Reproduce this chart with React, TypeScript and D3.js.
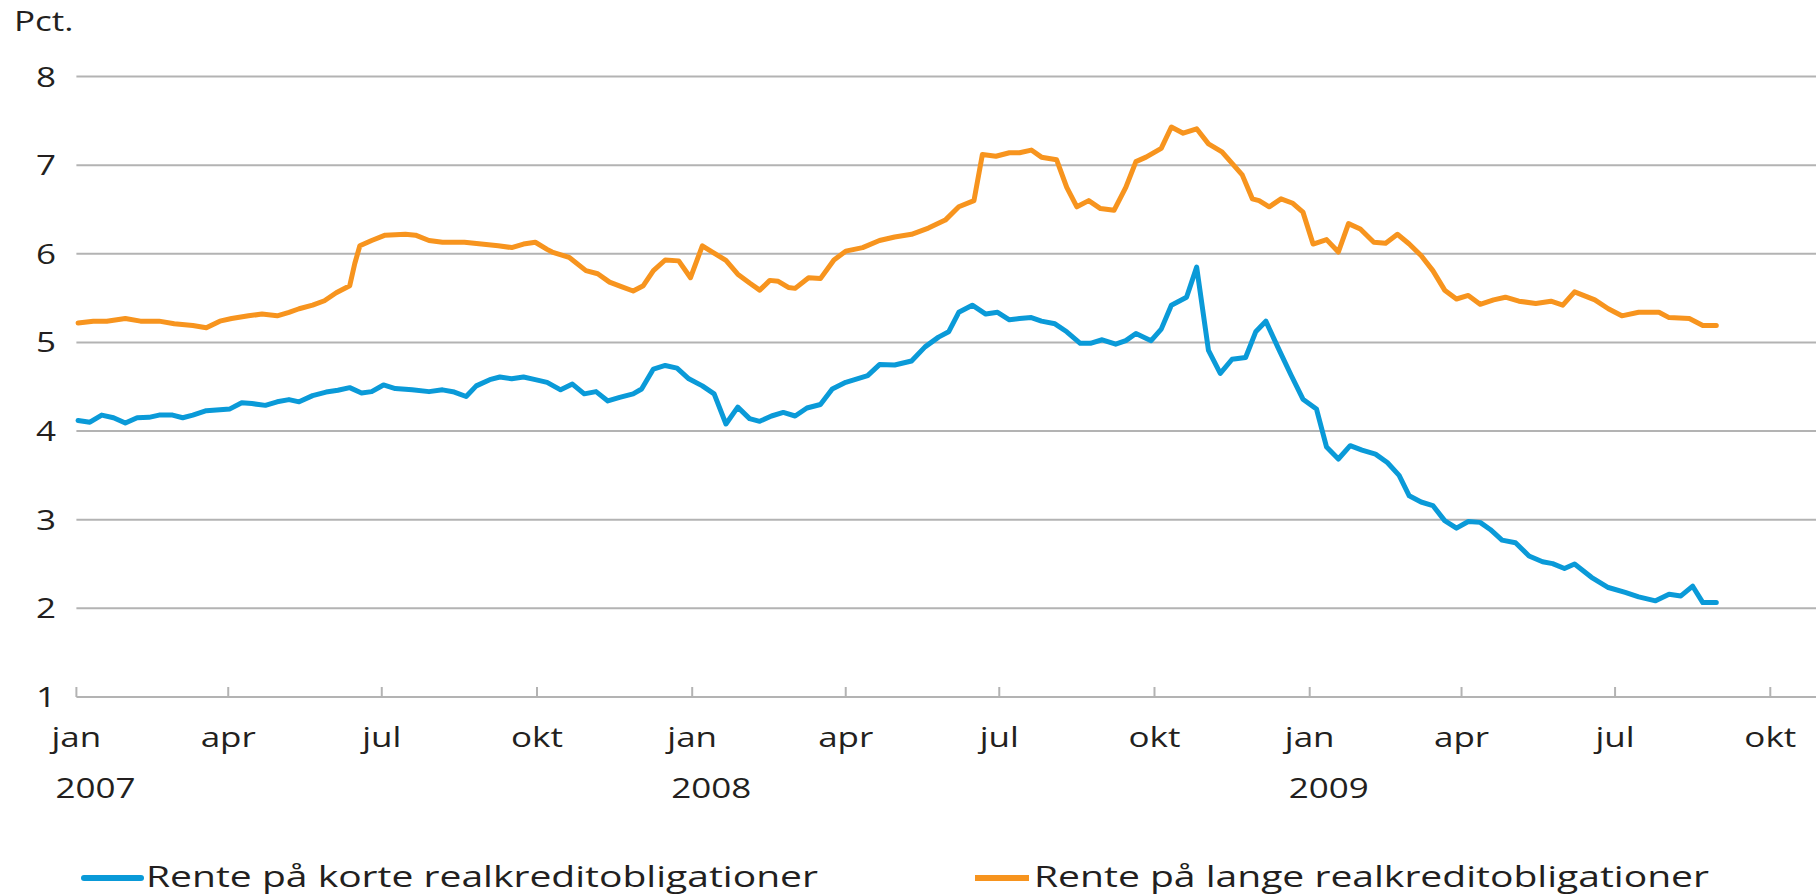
import React from "react";
import * as d3 from "d3";

// Rente på lange realkreditobligationer (orange)
const longDates = [
  "2007-01-02","2007-01-11","2007-01-19","2007-01-30","2007-02-08","2007-02-19","2007-02-28","2007-03-11","2007-03-19","2007-03-27",
  "2007-04-03","2007-04-13","2007-04-21","2007-04-30","2007-05-07","2007-05-13","2007-05-21","2007-05-28","2007-06-04","2007-06-12",
  "2007-06-15","2007-06-18","2007-06-25","2007-07-03","2007-07-15","2007-07-21","2007-07-29","2007-08-06","2007-08-19","2007-08-29",
  "2007-09-08","2007-09-16","2007-09-23","2007-09-30","2007-10-07","2007-10-10","2007-10-20","2007-10-30","2007-11-06","2007-11-13",
  "2007-11-20","2007-11-27","2007-12-03","2007-12-09","2007-12-16","2007-12-24","2007-12-31","2008-01-07","2008-01-13","2008-01-21",
  "2008-01-28","2008-02-04","2008-02-10","2008-02-16","2008-02-21","2008-02-27","2008-03-02","2008-03-10","2008-03-17","2008-03-25",
  "2008-04-01","2008-04-11","2008-04-21","2008-04-30","2008-05-10","2008-05-20","2008-05-30","2008-06-07","2008-06-16","2008-06-21",
  "2008-06-29","2008-07-07","2008-07-13","2008-07-20","2008-07-26","2008-08-04","2008-08-10","2008-08-16","2008-08-23","2008-08-30",
  "2008-09-07","2008-09-14","2008-09-20","2008-09-26","2008-10-05","2008-10-11","2008-10-18","2008-10-26","2008-11-02","2008-11-10",
  "2008-11-16","2008-11-22","2008-11-28","2008-12-02","2008-12-08","2008-12-15","2008-12-22","2008-12-28","2009-01-03","2009-01-11",
  "2009-01-18","2009-01-24","2009-01-31","2009-02-08","2009-02-15","2009-02-22","2009-03-01","2009-03-08","2009-03-15","2009-03-22",
  "2009-03-29","2009-04-05","2009-04-12","2009-04-20","2009-04-27","2009-05-05","2009-05-15","2009-05-24","2009-05-31","2009-06-07",
  "2009-06-19","2009-06-27","2009-07-05","2009-07-15","2009-07-27","2009-08-02","2009-08-14","2009-08-22","2009-08-30"
];
const longValues = [
  5.22,5.24,5.24,5.27,5.24,5.24,5.21,5.19,5.165,5.24,
  5.27,5.30,5.32,5.30,5.34,5.38,5.42,5.47,5.56,5.64,
  5.89,6.09,6.15,6.21,6.22,6.21,6.15,6.13,6.13,6.11,
  6.09,6.07,6.11,6.13,6.05,6.02,5.96,5.81,5.775,5.68,
  5.63,5.58,5.64,5.81,5.93,5.92,5.73,6.09,6.02,5.925,
  5.77,5.67,5.59,5.70,5.69,5.62,5.61,5.73,5.72,5.93,
  6.03,6.07,6.15,6.19,6.22,6.29,6.38,6.53,6.60,7.12,
  7.10,7.14,7.14,7.17,7.09,7.06,6.75,6.53,6.60,6.51,
  6.49,6.75,7.04,7.09,7.19,7.43,7.36,7.41,7.24,7.15,
  7.02,6.89,6.62,6.60,6.53,6.62,6.57,6.47,6.11,6.16,
  6.02,6.34,6.28,6.13,6.12,6.22,6.11,5.98,5.81,5.59,
  5.49,5.53,5.43,5.48,5.51,5.465,5.44,5.465,5.42,5.57,
  5.48,5.38,5.30,5.34,5.34,5.28,5.27,5.19,5.19
];

// Rente på korte realkreditobligationer (blue)
const shortDates = [
  "2007-01-02","2007-01-09","2007-01-16","2007-01-23","2007-01-30","2007-02-06","2007-02-13","2007-02-19","2007-02-27","2007-03-05",
  "2007-03-11","2007-03-19","2007-03-27","2007-04-02","2007-04-09","2007-04-15","2007-04-23","2007-04-30","2007-05-07","2007-05-13",
  "2007-05-21","2007-05-29","2007-06-05","2007-06-12","2007-06-19","2007-06-25","2007-07-02","2007-07-09","2007-07-19","2007-07-29",
  "2007-08-06","2007-08-13","2007-08-20","2007-08-26","2007-09-03","2007-09-09","2007-09-16","2007-09-23","2007-09-30","2007-10-07",
  "2007-10-15","2007-10-22","2007-10-29","2007-11-05","2007-11-12","2007-11-19","2007-11-27","2007-12-02","2007-12-09","2007-12-16",
  "2007-12-23","2007-12-30","2008-01-07","2008-01-14","2008-01-21","2008-01-28","2008-02-04","2008-02-10","2008-02-17","2008-02-24",
  "2008-03-02","2008-03-09","2008-03-17","2008-03-24","2008-04-01","2008-04-14","2008-04-21","2008-04-30","2008-05-10","2008-05-18",
  "2008-05-26","2008-06-01","2008-06-07","2008-06-15","2008-06-23","2008-06-30","2008-07-07","2008-07-13","2008-07-20","2008-07-26",
  "2008-08-03","2008-08-10","2008-08-18","2008-08-24","2008-08-31","2008-09-08","2008-09-14","2008-09-20","2008-09-29","2008-10-05",
  "2008-10-11","2008-10-20","2008-10-26","2008-11-02","2008-11-09","2008-11-16","2008-11-24","2008-11-30","2008-12-06","2008-12-14",
  "2008-12-21","2008-12-28","2009-01-05","2009-01-11","2009-01-18","2009-01-25","2009-02-01","2009-02-09","2009-02-16","2009-02-23",
  "2009-03-01","2009-03-08","2009-03-15","2009-03-22","2009-03-29","2009-04-05","2009-04-12","2009-04-18","2009-04-25","2009-05-03",
  "2009-05-11","2009-05-19","2009-05-25","2009-06-01","2009-06-07","2009-06-17","2009-06-27","2009-07-07","2009-07-15","2009-07-25",
  "2009-08-02","2009-08-09","2009-08-16","2009-08-22","2009-08-30"
];
const shortValues = [
  4.12,4.10,4.18,4.15,4.09,4.15,4.155,4.18,4.18,4.15,
  4.18,4.23,4.24,4.25,4.32,4.31,4.29,4.33,4.355,4.33,
  4.40,4.44,4.46,4.49,4.43,4.445,4.52,4.48,4.465,4.445,
  4.465,4.44,4.39,4.51,4.58,4.61,4.59,4.61,4.58,4.55,
  4.465,4.53,4.42,4.445,4.34,4.38,4.42,4.475,4.70,4.74,
  4.71,4.59,4.51,4.42,4.08,4.27,4.14,4.11,4.17,4.21,
  4.17,4.26,4.30,4.475,4.55,4.625,4.75,4.745,4.79,4.95,
  5.06,5.12,5.34,5.42,5.32,5.34,5.255,5.27,5.28,5.24,
  5.21,5.12,4.99,4.99,5.03,4.98,5.02,5.10,5.02,5.15,
  5.42,5.51,5.85,4.91,4.65,4.81,4.83,5.12,5.24,4.91,
  4.63,4.36,4.25,3.82,3.685,3.835,3.785,3.74,3.645,3.50,
  3.27,3.20,3.16,2.99,2.905,2.98,2.97,2.89,2.77,2.74,
  2.59,2.525,2.505,2.45,2.50,2.35,2.235,2.18,2.13,2.085,
  2.16,2.14,2.25,2.065,2.065
];

const yTicks = [1, 2, 3, 4, 5, 6, 7, 8];
const monthTickDates = [
  "2007-01-01","2007-04-01","2007-07-01","2007-10-01",
  "2008-01-01","2008-04-01","2008-07-01","2008-10-01",
  "2009-01-01","2009-04-01","2009-07-01","2009-10-01"
];
const monthLabels = ["jan","apr","jul","okt","jan","apr","jul","okt","jan","apr","jul","okt"];
const yearTickDates = ["2007-01-01", "2008-01-01", "2009-01-01"];
const yearLabels = ["2007", "2008", "2009"];
const seriesNames = ["Rente på korte realkreditobligationer", "Rente på lange realkreditobligationer"];
const seriesColors = ["#0a9ad8", "#f7941e"];

const W = 1816;
const H = 895;
const FONT = "'Open Sans', 'DejaVu Sans', sans-serif";
const SX = 1.25;
const TEXT = "#231f20";
const GRID = "#b3b3b3";

const parse = d3.utcParse("%Y-%m-%d");

export default function App() {
  const x = d3
    .scaleUtc()
    .domain([parse("2007-01-01")!, parse("2009-01-01")!])
    .range([76.4, 1309.7]);
  const y = d3.scaleLinear().domain([1, 8]).range([697, 76.5]);
  const left = 76.4;
  const right = W;

  const line = d3
    .line<[Date, number]>()
    .x((d) => x(d[0]))
    .y((d) => y(d[1]))
    .curve(d3.curveLinear);

  const shortData: [Date, number][] = shortDates.map((d, i) => [parse(d)!, shortValues[i]]);
  const longData: [Date, number][] = longDates.map((d, i) => [parse(d)!, longValues[i]]);

  const txt = (
    key: string,
    tx: number,
    ty: number,
    s: string,
    anchor: "start" | "middle" | "end" = "middle",
    size = 28
  ) => (
    <text
      key={key}
      transform={`translate(${tx},${ty}) scale(${SX},1)`}
      textAnchor={anchor}
      fontFamily={FONT}
      fontSize={size}
      fill={TEXT}
    >
      {s}
    </text>
  );

  return (
    <svg
      width={W}
      height={H}
      style={{ position: "absolute", left: 0, top: 0, background: "#fff" }}
    >
      <rect x={0} y={0} width={W} height={H} fill="#fff" />
      {txt("pct", 14, 31, "Pct.", "start", 28)}
      {yTicks.map((t) => (
        <g key={"y" + t}>
          <line x1={left} x2={right} y1={y(t)} y2={y(t)} stroke={GRID} strokeWidth={2} />
          {txt("yl" + t, 46, y(t) + 10, String(t))}
        </g>
      ))}
      {monthTickDates.map((d, i) => {
        const px = x(parse(d)!);
        return (
          <g key={"m" + i}>
            <line x1={px} x2={px} y1={y(1)} y2={y(1) - 10} stroke={GRID} strokeWidth={2} />
            {txt("ml" + i, px, 747, monthLabels[i])}
          </g>
        );
      })}
      {yearTickDates.map((d, i) => txt("yr" + i, x(parse(d)!) + 19, 798, yearLabels[i]))}
      <path d={line(longData) || ""} fill="none" stroke={seriesColors[1]} strokeWidth={5} strokeLinejoin="round" strokeLinecap="round" />
      <path d={line(shortData) || ""} fill="none" stroke={seriesColors[0]} strokeWidth={5} strokeLinejoin="round" strokeLinecap="round" />
      <line x1={84} x2={141} y1={878} y2={878} stroke={seriesColors[0]} strokeWidth={6} strokeLinecap="round" />
      <text x={146} y={887} fontFamily={FONT} fontSize={29} fill={TEXT} textLength={672} lengthAdjust="spacingAndGlyphs">
        {seriesNames[0]}
      </text>
      <line x1={975} x2={1029} y1={878} y2={878} stroke={seriesColors[1]} strokeWidth={6} />
      <text x={1034} y={887} fontFamily={FONT} fontSize={29} fill={TEXT} textLength={675} lengthAdjust="spacingAndGlyphs">
        {seriesNames[1]}
      </text>
    </svg>
  );
}
